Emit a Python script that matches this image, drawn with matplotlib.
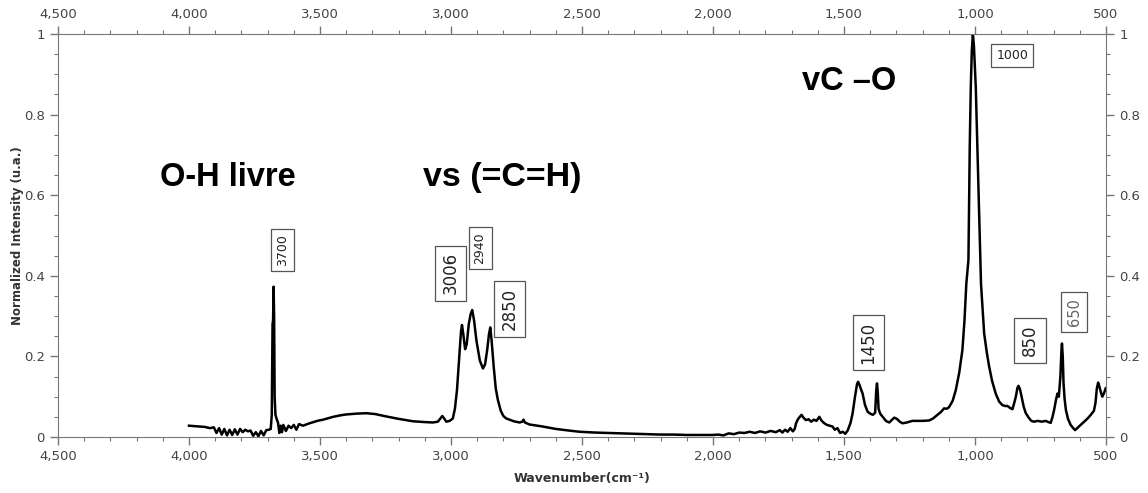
import matplotlib.pyplot as plt
from matplotlib.ticker import FuncFormatter, MultipleLocator


# spectrum, descending wavenumber
wavenumber = [
    4000, 3980, 3960, 3940, 3920, 3905, 3895, 3885, 3875, 3865, 3855, 3845,
    3835, 3825, 3815, 3805, 3795, 3785, 3775, 3765, 3755, 3745, 3735, 3725,
    3715, 3705, 3695, 3688, 3684, 3681, 3679, 3677, 3675, 3673, 3670, 3666,
    3660, 3655, 3650, 3645, 3640, 3630, 3620, 3610, 3600, 3590, 3580, 3565,
    3540, 3510, 3488, 3450, 3420, 3399, 3360, 3323, 3290, 3247, 3200, 3145,
    3100, 3069, 3050, 3038, 3033, 3026, 3018, 3005, 2993, 2985, 2977, 2970,
    2967, 2962, 2958, 2952, 2946, 2940, 2932, 2925, 2919, 2912, 2903, 2890,
    2878, 2870, 2862, 2855, 2850, 2845, 2837, 2829, 2821, 2810, 2800, 2789,
    2760, 2738, 2728, 2723, 2718, 2700, 2650, 2600, 2550, 2509, 2450, 2400,
    2350, 2300, 2255, 2200, 2150, 2100, 2050, 2001, 1980, 1960, 1940, 1920,
    1900, 1880, 1860, 1840, 1820, 1800, 1780, 1760, 1745, 1735, 1725, 1715,
    1705, 1695, 1688, 1683, 1675, 1662, 1655, 1645, 1635, 1625, 1615, 1605,
    1594, 1585, 1575, 1565, 1555, 1544, 1535, 1525, 1515, 1505, 1495, 1486,
    1475, 1467, 1458, 1450, 1446, 1440, 1435, 1429, 1420, 1410, 1400, 1390,
    1381, 1377, 1374, 1371, 1368, 1362, 1350, 1340, 1334, 1327, 1318, 1308,
    1298, 1287, 1277, 1260, 1239, 1200, 1175, 1160, 1143, 1130, 1118, 1108,
    1099, 1085, 1073, 1060, 1048, 1040, 1033, 1025, 1020, 1016, 1012, 1008,
    1004, 997, 991, 984, 980, 977, 965, 955, 946, 935, 921, 908,
    895, 885, 876, 866, 857, 850, 844, 838, 834, 828, 822, 814,
    806, 795, 785, 775, 760, 745, 730, 720, 711, 704, 698, 690,
    685, 680, 674, 670, 668, 665, 662, 658, 653, 645, 635, 625,
    618, 610, 600, 590, 580, 570, 558, 546, 540, 535, 530, 525,
    519, 514, 508, 501,
]
intensity = [
    0.028, 0.027, 0.026, 0.025, 0.022, 0.024, 0.010, 0.022, 0.006, 0.020, 0.004, 0.018,
    0.005, 0.019, 0.006, 0.020, 0.012, 0.018, 0.014, 0.016, 0.003, 0.012, 0.002, 0.015,
    0.004, 0.017, 0.018, 0.020, 0.055, 0.280, 0.290, 0.373, 0.300, 0.100, 0.055, 0.046,
    0.035, 0.010, 0.028, 0.012, 0.030, 0.015, 0.028, 0.022, 0.030, 0.018, 0.032, 0.028,
    0.034, 0.040, 0.043, 0.050, 0.054, 0.056, 0.058, 0.059, 0.057, 0.051, 0.045, 0.039,
    0.037, 0.036, 0.038, 0.048, 0.052, 0.046, 0.038, 0.040, 0.046, 0.070, 0.117, 0.185,
    0.216, 0.260, 0.278, 0.250, 0.218, 0.230, 0.280, 0.305, 0.315, 0.290, 0.240, 0.190,
    0.170, 0.180, 0.215, 0.255, 0.272, 0.240, 0.175, 0.120, 0.092, 0.065, 0.052, 0.046,
    0.039, 0.036, 0.038, 0.043, 0.036, 0.031, 0.026, 0.020, 0.016, 0.013, 0.011, 0.010,
    0.009, 0.008, 0.007, 0.006, 0.006, 0.005, 0.005, 0.005, 0.006, 0.004, 0.009, 0.007,
    0.011, 0.010, 0.013, 0.010, 0.014, 0.011, 0.015, 0.012, 0.017, 0.011, 0.018, 0.013,
    0.022, 0.014, 0.020, 0.034, 0.045, 0.055, 0.048, 0.042, 0.044, 0.038, 0.043, 0.040,
    0.050, 0.040, 0.034, 0.030, 0.028, 0.026, 0.018, 0.022, 0.010, 0.013, 0.008, 0.016,
    0.035, 0.059, 0.100, 0.132, 0.137, 0.128, 0.118, 0.108, 0.080, 0.063, 0.058, 0.055,
    0.060, 0.115, 0.133, 0.110, 0.070, 0.058, 0.048, 0.040, 0.038, 0.036, 0.042, 0.048,
    0.045, 0.038, 0.034, 0.036, 0.040, 0.040, 0.041, 0.046, 0.055, 0.062, 0.071, 0.070,
    0.074, 0.090, 0.117, 0.160, 0.216, 0.290, 0.381, 0.439, 0.720, 0.869, 0.960, 1.000,
    0.970, 0.869, 0.720, 0.550, 0.440, 0.380, 0.257, 0.210, 0.175, 0.140, 0.108, 0.088,
    0.079, 0.077, 0.077, 0.072, 0.069, 0.085, 0.100, 0.122, 0.127, 0.118, 0.100, 0.075,
    0.059, 0.048, 0.040, 0.038, 0.040, 0.038, 0.040, 0.037, 0.035, 0.050, 0.067, 0.095,
    0.108, 0.100, 0.150, 0.215, 0.232, 0.200, 0.133, 0.095, 0.067, 0.045, 0.030, 0.022,
    0.017, 0.022, 0.028, 0.034, 0.040, 0.046, 0.055, 0.065, 0.085, 0.120, 0.135, 0.125,
    0.110, 0.100, 0.108, 0.121,
]

# boxed peak labels: text, x, y, rotation, size, colour
peak_labels = [
    ("3700", 3642, 0.463, 90, 9, "#222222"),
    ("3006", 3003, 0.406, 90, 12, "#222222"),
    ("2940", 2889, 0.469, 90, 9, "#222222"),
    ("2850", 2776, 0.318, 90, 12, "#222222"),
    ("1450", 1407, 0.2345, 90, 12, "#222222"),
    ("1000", 858, 0.946, 0, 9, "#222222"),
    ("850", 790, 0.239, 90, 12, "#222222"),
    ("650", 622, 0.310, 90, 10.5, "#666666"),
]

# band assignments: text, x, y, size
band_labels = [
    ("O-H livre", 3852, 0.645, 23.5),
    ("vs (=C=H)", 2803, 0.643, 24.5),
    ("vC \u2013O", 1480, 0.883, 23.5),
]


def main() -> None:
    fig = plt.figure(figsize=(11.48, 4.93), dpi=100)
    ax = fig.add_axes([0.0505, 0.1136, 0.9129, 0.8174])

    ax.plot(wavenumber, intensity, color="black", linewidth=1.8)

    ax.set_xlim(4500, 500)
    ax.set_ylim(0, 1)
    ax.xaxis.set_major_locator(MultipleLocator(500))
    ax.xaxis.set_minor_locator(MultipleLocator(100))
    ax.yaxis.set_major_locator(MultipleLocator(0.2))
    ax.yaxis.set_minor_locator(MultipleLocator(0.05))
    ax.xaxis.set_major_formatter(FuncFormatter(lambda v, _: f"{v:,.0f}"))
    ax.yaxis.set_major_formatter(FuncFormatter(lambda v, _: f"{v:g}"))

    ax.tick_params(which="both", direction="out", top=True, right=True,
                   labeltop=True, labelright=True, color="#777777",
                   labelcolor="#444444", labelsize=9.5)
    ax.tick_params(which="major", length=6, width=1)
    ax.tick_params(which="minor", length=3, width=0.8)
    for spine in ax.spines.values():
        spine.set_color("#777777")

    ax.set_xlabel("Wavenumber(cm\u207b\u00b9)", fontsize=9, fontweight="bold",
                  color="#333333", labelpad=6)
    ax.set_ylabel("Normalized Intensity (u.a.)", fontsize=8.5, fontweight="bold",
                  color="#333333", labelpad=0)

    for text, x, y, rot, size, color in peak_labels:
        ax.text(x, y, text, rotation=rot, fontsize=size, color=color,
                ha="center", va="center",
                bbox=dict(boxstyle="square,pad=0.4", fc="white", ec="#555555", lw=0.9))

    for text, x, y, size in band_labels:
        ax.text(x, y, text, fontsize=size, fontweight="bold",
                family="Liberation Sans", ha="center", va="center")

    fig.savefig("out.png", dpi=100)
    plt.close(fig)


if __name__ == "__main__":
    main()
